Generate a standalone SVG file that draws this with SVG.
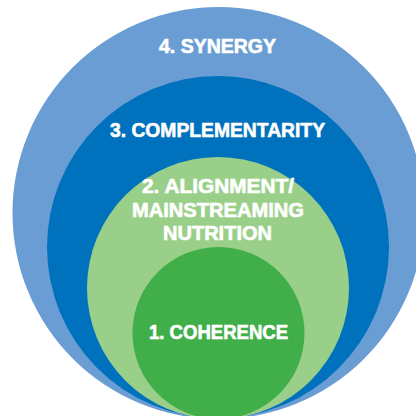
<svg xmlns="http://www.w3.org/2000/svg" width="416" height="416" viewBox="0 0 416 416">
<style>
.lbl{font-family:"Liberation Sans","DejaVu Sans",Arial,sans-serif;font-weight:bold;font-size:19.5px;fill:#ffffff;stroke:#ffffff;stroke-width:0.6;text-anchor:middle}
</style>
<rect width="416" height="416" fill="#ffffff"/>
<g id="synergy">
<circle cx="218.5" cy="213" r="206" fill="#6a9dd3"/>
<text class="lbl" x="217.5" y="53" textLength="117" lengthAdjust="spacingAndGlyphs">4. SYNERGY</text>
</g>
<g id="complementarity">
<circle cx="218" cy="247" r="171" fill="#0071bc"/>
<text class="lbl" x="217.5" y="137" textLength="215" lengthAdjust="spacingAndGlyphs">3. COMPLEMENTARITY</text>
</g>
<g id="alignment">
<circle cx="218" cy="288" r="131" fill="#99cf89"/>
<text class="lbl" x="218" y="193" textLength="152" lengthAdjust="spacingAndGlyphs">2. ALIGNMENT/</text>
<text class="lbl" x="218" y="217" textLength="172" lengthAdjust="spacingAndGlyphs">MAINSTREAMING</text>
<text class="lbl" x="217.5" y="240" textLength="109" lengthAdjust="spacingAndGlyphs">NUTRITION</text>
</g>
<g id="coherence">
<circle cx="218.5" cy="333" r="86" fill="#40ae49"/>
<text class="lbl" x="218.5" y="339" textLength="139" lengthAdjust="spacingAndGlyphs">1. COHERENCE</text>
</g>
<g id="connectors"/>
</svg>
